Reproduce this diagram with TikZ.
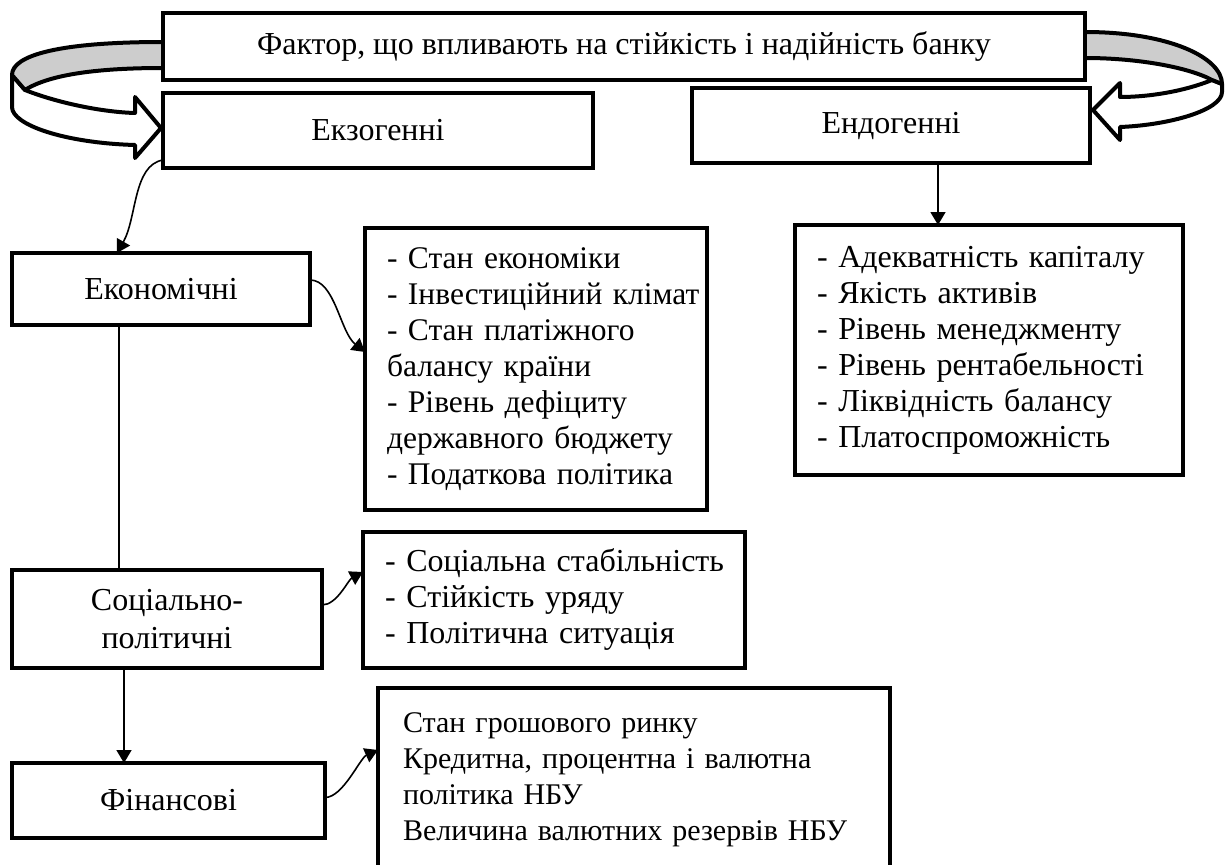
\documentclass[tikz,border=0pt]{standalone}
\usepackage{fontspec}
\setmainfont{Liberation Serif}
\usetikzlibrary{arrows.meta}
\definecolor{ribbongray}{RGB}{205,205,205}
\newcommand{\itemrows}[1]{\begin{tabular}{@{}l@{}}#1\end{tabular}}

\begin{document}
\begin{tikzpicture}[x=1pt, y=-1pt,
	box/.style={draw, line width=4.5pt, fill=white, inner sep=0pt, outer sep=0pt, anchor=north west, font=\fontsize{32}{36}\selectfont},
	listbox/.style={box, align=left, inner xsep=22pt},
	link/.style={line width=1.6pt},
	conn/.style={link, -{Triangle[length=13pt,width=15pt]}},
	ribbon/.style={line width=4pt, line join=round}]
	\useasboundingbox (0,0) rectangle (1225,864);
	% left ribbon arrow
	\draw [ribbon, fill=white] (25,90) .. controls (55,102) and (100,112) .. (135,113) -- (135,97) -- (161,128) -- (135,158) -- (135,145) .. controls (65,143) and (12,125) .. (12,107) -- (12,75) -- cycle;
	\draw [ribbon, fill=ribbongray] (172,42) -- (163,42) .. controls (60,42) and (12,55) .. (12,75) -- (25,90) .. controls (50,74) and (100,68) .. (163,68) -- (172,68);
	% right ribbon arrow
	\draw [ribbon, fill=white] (1212,80) .. controls (1185,91) and (1150,97) .. (1120,97) -- (1120,83) -- (1093,110) -- (1120,140) -- (1120,127) .. controls (1170,125) and (1222,110) .. (1222,92) -- (1222,84) -- cycle;
	\draw [ribbon, fill=ribbongray] (1076,32) -- (1085,32) .. controls (1170,32) and (1222,58) .. (1222,84) -- (1212,80) .. controls (1190,68) and (1140,58) .. (1085,58) -- (1076,58);
	% boxes
	\node [box, minimum width=922pt, minimum height=67pt] (top) at (163,13) {Фактор, що впливають на стійкість і надійність банку};
	\node [box, minimum width=430pt, minimum height=75pt] (exo) at (163,93) {Екзогенні};
	\node [box, minimum width=398pt, minimum height=75pt] (endo) at (692,88) {Ендогенні};
	\node [box, minimum width=298pt, minimum height=72pt] (econ) at (12,253) {Економічні};
	\node [box, minimum width=310pt, minimum height=98pt, align=center] (social) at (12,570) {Соціально-\\[2pt]політичні};
	\node [box, minimum width=313pt, minimum height=75pt] (fin) at (12,763) {Фінансові};
	% lists
	\node [listbox, font=\fontsize{31.5}{36}\selectfont, text width=298pt, minimum height=282pt] (econlist) at (365,228) {\itemrows{- Стан економіки\\ - Інвестиційний клімат\\ - Стан платіжного\\ балансу країни\\ - Рівень дефіциту\\ державного бюджету\\ - Податкова політика}};
	\node [listbox, text width=344pt, minimum height=250pt] (endolist) at (795,225) {\itemrows{- Адекватність капіталу\\ - Якість активів\\ - Рівень менеджменту\\ - Рівень рентабельності\\ - Ліквідність балансу\\ - Платоспроможність}};
	\node [listbox, text width=338pt, minimum height=136pt] (sociallist) at (363,532) {\itemrows{- Соціальна стабільність\\ - Стійкість уряду\\ - Політична ситуація}};
	\node [listbox, font=\fontsize{30}{36}\selectfont, inner xsep=25pt, text width=462pt, minimum height=182pt] (finlist) at (378,688) {\itemrows{Стан грошового ринку\\ Кредитна, процентна і валютна\\ політика НБУ\\ Величина валютних резервів НБУ}};
	% connectors
	\draw [conn] ([yshift=8pt]exo.south west) .. controls +(-30,5) and +(20,-35) .. ([xshift=105pt]econ.north west);
	\draw [conn] ([xshift=246pt]endo.south west) -- ([xshift=143pt]endolist.north west);
	\draw [conn] ([yshift=9pt]econ.east) .. controls +(25,0) and +(-25,-20) .. ([yshift=17pt]econlist.west);
	\draw [link] ([xshift=107pt]econ.south west) -- ([xshift=107pt]social.north west);
	\draw [conn] ([yshift=14pt]social.east) .. controls +(15,0) and +(-15,8) .. ([yshift=28pt]sociallist.west);
	\draw [conn] ([xshift=112pt]social.south west) -- ([xshift=112pt]fin.north west);
	\draw [conn] ([yshift=3pt]fin.east) .. controls +(18,0) and +(-18,8) .. ([yshift=29pt]finlist.west);
\end{tikzpicture}
\end{document}
